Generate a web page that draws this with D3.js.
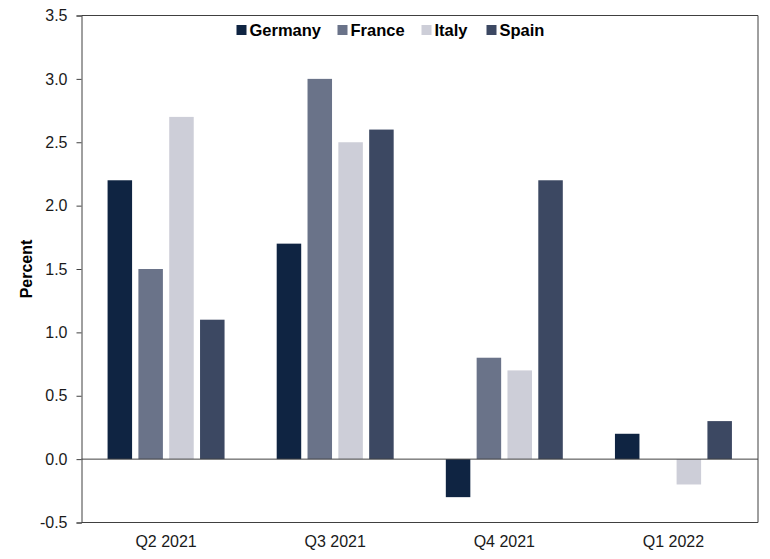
<!DOCTYPE html>
<html><head><meta charset="utf-8">
<script src="https://cdn.jsdelivr.net/npm/d3@7"></script>
<style>body{margin:0;background:#fff}svg{display:block}</style>
</head><body>
<script>
const categories = ["Q2 2021", "Q3 2021", "Q4 2021", "Q1 2022"];
const seriesNames = ["Germany", "France", "Italy", "Spain"];
const germany = [2.2, 1.7, -0.3, 0.2];
const france = [1.5, 3.0, 0.8, 0.0];
const italy = [2.7, 2.5, 0.7, -0.2];
const spain = [1.1, 2.6, 2.2, 0.3];
const yTicks = [-0.5, 0.0, 0.5, 1.0, 1.5, 2.0, 2.5, 3.0, 3.5];
const colors = ["#0f2442", "#6a7389", "#cdced8", "#3c4862"];

const values = [germany, france, italy, spain];
const W = 770, H = 559;
const m = {left: 81.5, right: 12, top: 15.5, bottom: 36.5};
const svg = d3.select("body").append("svg").attr("width", W).attr("height", H)
  .style("font-family", "Arial, 'Liberation Sans', sans-serif");

const x0 = d3.scaleBand().domain(categories).range([m.left, W - m.right]).padding(0);
const x1 = d3.scaleBand().domain(seriesNames).range([0, x0.bandwidth()]).paddingInner(0.205).paddingOuter(0.846);
const y = d3.scaleLinear().domain([-0.5, 3.5]).range([H - m.bottom, m.top]);

const axisColor = "#404040";

// bars
const g = svg.append("g");
categories.forEach((c, ci) => {
  seriesNames.forEach((s, si) => {
    const v = values[si][ci];
    if (v === 0) return;
    g.append("rect")
      .attr("x", x0(c) + x1(s))
      .attr("y", y(Math.max(0, v)))
      .attr("width", x1.bandwidth())
      .attr("height", Math.abs(y(v) - y(0)))
      .attr("fill", colors[si]);
  });
});

// frame
svg.append("line").attr("x1", m.left).attr("x2", W - m.right).attr("y1", y(3.5)).attr("y2", y(3.5)).attr("stroke", axisColor);
svg.append("line").attr("x1", W - m.right).attr("x2", W - m.right).attr("y1", y(3.5)).attr("y2", y(-0.5)).attr("stroke", axisColor);
svg.append("line").attr("x1", m.left).attr("x2", W - m.right).attr("y1", y(-0.5)).attr("y2", y(-0.5)).attr("stroke", axisColor);
svg.append("line").attr("x1", m.left).attr("x2", W - m.right).attr("y1", y(0)).attr("y2", y(0)).attr("stroke", axisColor);

// y axis
const fmt = v => v.toFixed(1);
const yAxis = d3.axisLeft(y).tickValues(yTicks).tickFormat(fmt).tickSize(5).tickPadding(9);
const ya = svg.append("g").attr("transform", `translate(${m.left},0)`).call(yAxis);
ya.select(".domain").attr("stroke", axisColor);
ya.selectAll(".tick line").attr("stroke", axisColor);
ya.selectAll("text").attr("font-size", 16).attr("fill", "#1a1a1a").attr("font-family", "Arial, 'Liberation Sans', sans-serif");

// x axis labels
const xAxis = d3.axisBottom(x0).tickSize(0).tickPadding(13);
const xa = svg.append("g").attr("transform", `translate(0,${y(-0.5)})`).call(xAxis);
xa.select(".domain").remove();
xa.selectAll("text").attr("font-size", 16).attr("fill", "#1a1a1a").attr("font-family", "Arial, 'Liberation Sans', sans-serif");

// y title
svg.append("text").attr("transform", `translate(32,${(y(3.5)+y(-0.5))/2}) rotate(-90)`)
  .attr("text-anchor", "middle").attr("font-size", 16).attr("font-weight", "bold").attr("fill", "#000").text("Percent");

// legend
const legendX = [236.5, 337.5, 421.5, 486.5];
const lg = svg.append("g");
seriesNames.forEach((s, i) => {
  lg.append("rect").attr("x", legendX[i]).attr("y", 25).attr("width", 10).attr("height", 10).attr("fill", colors[i]);
  lg.append("text").attr("x", legendX[i] + 13).attr("y", 36).attr("font-size", 16.5).attr("font-weight", "bold")
    .attr("fill", "#000").text(s);
});
</script>
</body></html>
